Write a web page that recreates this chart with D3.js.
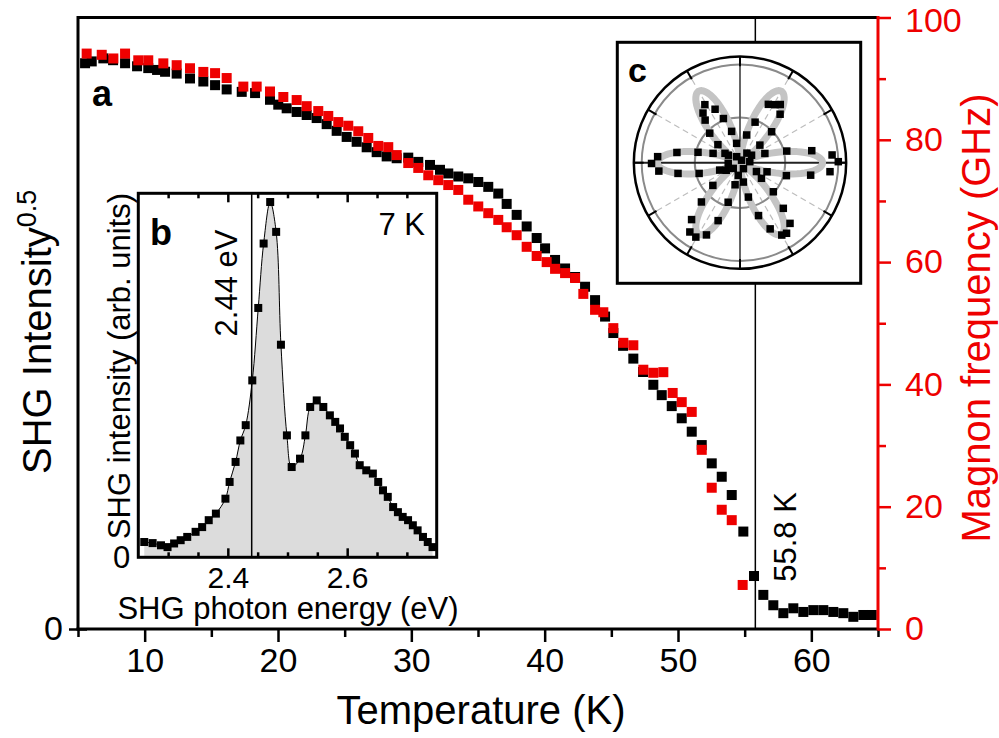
<!DOCTYPE html>
<html><head><meta charset="utf-8">
<script src="https://cdn.jsdelivr.net/npm/d3@7"></script>
<style>
body{margin:0;background:#fff}
svg{display:block}
text{font-family:"Liberation Sans",Arial,Helvetica,sans-serif}
</style>
</head><body>
<svg id="chart" width="999" height="738"></svg>
<script>
// ---------- data: main panel (a) ----------
const shgTemp = [5.53,6.03,6.90,7.63,8.53,9.43,10.27,10.93,11.53,12.40,13.40,14.40,15.28,16.15,17.28,18.28,19.40,20.02,20.65,21.40,22.15,22.90,23.65,24.40,25.15,25.90,26.65,27.40,28.15,28.90,29.77,30.52,31.40,32.15,32.77,33.52,34.27,35.02,35.77,36.52,37.15,37.90,38.65,39.40,40.03,40.78,41.53,42.28,43.03,43.78,44.53,45.15,45.88,46.65,47.38,48.15,48.78,49.53,50.28,51.03,51.78,52.53,53.28,54.03,54.90,55.70,56.40,57.15,57.90,58.65,59.40,60.15,60.90,61.65,62.40,63.15,63.90,64.53];
const shgValue = [0.929,0.932,0.937,0.934,0.929,0.924,0.921,0.918,0.915,0.912,0.904,0.899,0.893,0.886,0.882,0.880,0.869,0.861,0.855,0.849,0.844,0.839,0.829,0.818,0.808,0.800,0.791,0.783,0.776,0.773,0.774,0.767,0.762,0.754,0.748,0.743,0.740,0.734,0.726,0.715,0.698,0.680,0.661,0.642,0.625,0.606,0.592,0.578,0.562,0.540,0.513,0.486,0.465,0.444,0.422,0.401,0.384,0.366,0.346,0.324,0.302,0.272,0.250,0.220,0.160,0.087,0.056,0.039,0.026,0.034,0.028,0.031,0.031,0.028,0.026,0.020,0.023,0.023];
const magnonTemp = [5.65,6.78,7.65,8.53,9.52,10.27,11.40,12.40,13.40,14.40,15.28,16.15,17.40,18.40,19.40,20.40,21.40,22.15,23.02,23.77,24.52,25.27,26.02,26.77,27.52,28.27,28.90,29.77,30.52,31.27,32.02,32.77,33.52,34.27,35.02,35.77,36.52,37.15,37.90,38.65,39.40,40.15,40.78,41.53,42.28,42.90,43.78,44.40,45.15,45.90,46.65,47.40,48.15,48.90,49.60,50.28,51.03,51.78,52.53,53.28,54.03,54.85];
const magnonFreq = [94.1,93.9,93.3,94.1,93.0,93.0,92.5,92.2,91.7,91.1,90.9,90.1,88.7,88.7,87.9,87.0,86.5,85.5,84.7,83.9,82.9,82.3,81.4,80.3,79.0,78.8,77.5,76.2,75.4,74.2,73.4,72.6,71.8,70.2,69.1,68.0,66.9,65.7,64.4,62.5,61.0,60.0,58.9,58.2,57.4,54.8,52.2,51.8,49.2,46.8,46.4,42.4,41.9,42.0,38.6,37.1,35.5,29.3,23.1,19.5,17.8,7.2];
const transitionT = 55.8;
const xMajorTicks = [10,20,30,40,50,60];
const xMinorTicks = [5,15,25,35,45,55,65];
const freqMajorTicks = [0,20,40,60,80,100];
const freqMinorTicks = [10,30,50,70,90];

// ---------- data: inset (b) spectrum at 7 K ----------
const specEnergy = [2.260,2.274,2.288,2.299,2.310,2.321,2.332,2.346,2.357,2.368,2.380,2.396,2.403,2.413,2.421,2.430,2.441,2.451,2.460,2.471,2.481,2.489,2.499,2.507,2.521,2.530,2.538,2.549,2.560,2.571,2.580,2.588,2.596,2.605,2.613,2.621,2.632,2.643,2.652,2.660,2.668,2.677,2.685,2.693,2.702,2.710,2.718,2.727,2.735,2.743];
const specValue = [0.042,0.039,0.033,0.028,0.038,0.047,0.056,0.070,0.083,0.102,0.120,0.161,0.207,0.262,0.321,0.363,0.486,0.685,0.862,0.976,0.894,0.584,0.335,0.248,0.271,0.335,0.413,0.431,0.413,0.390,0.372,0.354,0.331,0.308,0.285,0.253,0.239,0.230,0.207,0.184,0.166,0.138,0.124,0.111,0.102,0.088,0.074,0.056,0.042,0.028];
const resonanceEnergy = 2.44;
const eMajorTicks = [2.4,2.6];
const eMinorTicks = [2.3,2.35,2.45,2.5,2.55,2.65,2.7];

// ---------- data: inset (c) polar SHG pattern ----------
const polarAngleDeg = [121.2,115,126.7,129.3,110.6,135.7,105,140.8,99.8,148,64.1,58.8,55.3,50.4,69.6,44.4,76.4,41.5,54.3,4.8,0.6,-5.7,9.5,-10,14,-15.6,20.4,-18.6,-28.3,175.8,180.5,185.9,170.8,189.8,166.1,194.7,160.8,200,208.8,229.6,234.1,239.3,245.1,249.3,225.5,253.3,219.9,257.4,309.5,303.4,300,294.5,289.3,313.5,318.9,283.7,324,279.9,119,58,220,300,6,183,262,33,147];
const polarValue = [0.69,0.60,0.63,0.56,0.48,0.43,0.33,0.29,0.20,0.18,0.66,0.69,0.72,0.64,0.44,0.45,0.29,0.27,0.12,0.94,1.00,0.92,0.74,0.73,0.49,0.49,0.27,0.29,0.19,0.84,0.90,0.83,0.65,0.64,0.44,0.43,0.29,0.22,0.16,0.76,0.87,0.88,0.81,0.63,0.56,0.42,0.36,0.23,0.80,0.86,0.85,0.74,0.57,0.64,0.45,0.36,0.27,0.20,0.07,0.03,0.09,0.07,0.10,0.12,0.13,0.14,0.14];
const polarFitAmplitude = 0.84;
const polarGridCircles = [0.46, 1.0];
const polarOuter = 1.08;

// ---------- drawing ----------
const RED = "#ee0000";
const svg = d3.select("#chart");
const x = d3.scaleLinear().domain([5,65]).range([78,878]);
const yL = d3.scaleLinear().domain([0,1]).range([629,20]);
const yR = d3.scaleLinear().domain([0,100]).range([629,17.5]);

function styleAxis(g, color, sw, fs){
  g.select(".domain").remove();
  g.selectAll(".tick line").attr("stroke",color).attr("stroke-width",sw);
  g.selectAll(".tick text").attr("fill",color).attr("font-size",fs)
    .attr("font-family",'"Liberation Sans",Arial,sans-serif');
}

// transition line
svg.append("line")
  .attr("x1",x(transitionT)).attr("x2",x(transitionT))
  .attr("y1",yR(100)).attr("y2",yR(0))
  .attr("stroke","#000").attr("stroke-width",1.5);

// data squares
const sq = 10;
svg.append("g").selectAll("rect").data(d3.zip(shgTemp,shgValue)).join("rect")
  .attr("x",d=>x(d[0])-sq/2).attr("y",d=>yL(d[1])-sq/2)
  .attr("width",sq).attr("height",sq).attr("fill","#000");
svg.append("g").selectAll("rect").data(d3.zip(magnonTemp,magnonFreq)).join("rect")
  .attr("x",d=>x(d[0])-sq/2).attr("y",d=>yR(d[1])-sq/2)
  .attr("width",sq).attr("height",sq).attr("fill",RED);

// axes
const gx = svg.append("g").attr("transform","translate(0,629)")
  .call(d3.axisBottom(x).tickValues(xMajorTicks).tickSize(13).tickPadding(6).tickFormat(d3.format("d")));
styleAxis(gx,"#000",2.5,34);
const gxm = svg.append("g").attr("transform","translate(0,629)")
  .call(d3.axisBottom(x).tickValues(xMinorTicks).tickSize(8).tickFormat(""));
styleAxis(gxm,"#000",2.5,34);

const gr = svg.append("g").attr("transform","translate(878,0)")
  .call(d3.axisRight(yR).tickValues(freqMajorTicks).tickSize(13).tickPadding(14).tickFormat(d3.format("d")));
styleAxis(gr,RED,2.5,34);
gr.selectAll(".tick text").filter(d=>d===100).attr("dy","0.40em");
const grm = svg.append("g").attr("transform","translate(878,0)")
  .call(d3.axisRight(yR).tickValues(freqMinorTicks).tickSize(8).tickFormat(""));
styleAxis(grm,RED,2.5,34);

const gl = svg.append("g").attr("transform","translate(78,0)")
  .call(d3.axisLeft(yL).tickValues([0]).tickSize(9).tickPadding(6).tickFormat(d3.format("d")));
styleAxis(gl,"#000",2.5,34);
const gl2 = svg.append("g").attr("transform","translate(78,0)")
  .call(d3.axisLeft(yL).tickValues([0]).tickSize(-9).tickFormat(""));
styleAxis(gl2,"#000",2.5,34);

// spines
svg.append("line").attr("x1",x(5)).attr("x2",x(65)).attr("y1",yR(100)).attr("y2",yR(100)).attr("stroke","#000").attr("stroke-width",3);
svg.append("line").attr("x1",x(5)).attr("x2",x(5)).attr("y1",yR(100)-1.5).attr("y2",yR(0)+1.5).attr("stroke","#000").attr("stroke-width",3);
svg.append("line").attr("x1",x(5)-1.5).attr("x2",x(65)).attr("y1",yR(0)).attr("y2",yR(0)).attr("stroke","#000").attr("stroke-width",3);
svg.append("line").attr("x1",x(65)).attr("x2",x(65)).attr("y1",yR(100)-1.5).attr("y2",yR(0)+1.5).attr("stroke",RED).attr("stroke-width",3);

// axis titles
svg.append("text").attr("x",481).attr("y",724).attr("text-anchor","middle").attr("font-size",40).text("Temperature (K)");
const yt = svg.append("text").attr("transform","translate(51,474) rotate(-90)").attr("font-size",40);
yt.append("tspan").text("SHG Intensity");
yt.append("tspan").attr("dy",-15).attr("font-size",27).text("0.5");
svg.append("text").attr("transform","translate(990,318) rotate(-90)").attr("text-anchor","middle")
  .attr("font-size",40).attr("fill",RED).text("Magnon frequency (GHz)");

svg.append("text").attr("x",92).attr("y",106).attr("font-size",36).attr("font-weight","bold").text("a");
svg.append("text").attr("transform",`translate(${x(transitionT)+41},537) rotate(-90)`).attr("text-anchor","middle")
  .attr("font-size",31).text("55.8 K");

// ---------- inset b ----------
const bx0=138.3,bx1=436.7,by0=193.3,by1=557.3;
const ex = d3.scaleLinear().domain([2.25,2.75]).range([bx0,bx1]);
const ey = d3.scaleLinear().domain([0,1]).range([by1,by0]);
svg.append("rect").attr("x",bx0).attr("y",by0).attr("width",bx1-bx0).attr("height",by1-by0).attr("fill","#fff");
svg.append("clipPath").attr("id","clipb").append("rect").attr("x",bx0).attr("y",by0).attr("width",bx1-bx0).attr("height",by1-by0);
const spec = d3.zip(specEnergy,specValue);
const gb = svg.append("g").attr("clip-path","url(#clipb)");
gb.append("path").datum(spec)
  .attr("d",d3.area().x(d=>ex(d[0])).y0(by1).y1(d=>ey(d[1])).curve(d3.curveCatmullRom.alpha(0.5)))
  .attr("fill","#dcdcdc");
gb.append("path").datum(spec)
  .attr("d",d3.line().x(d=>ex(d[0])).y(d=>ey(d[1])).curve(d3.curveCatmullRom.alpha(0.5)))
  .attr("fill","none").attr("stroke","#000").attr("stroke-width",1);
gb.append("line").attr("x1",ex(resonanceEnergy)).attr("x2",ex(resonanceEnergy)).attr("y1",by0).attr("y2",by1)
  .attr("stroke","#000").attr("stroke-width",1.5);
const sqb = 8;
gb.append("g").selectAll("rect").data(spec).join("rect")
  .attr("x",d=>ex(d[0])-sqb/2).attr("y",d=>ey(d[1])-sqb/2)
  .attr("width",sqb).attr("height",sqb).attr("fill","#000");

const gbx = svg.append("g").attr("transform",`translate(0,${by1})`)
  .call(d3.axisBottom(ex).tickValues(eMajorTicks).tickSize(-9).tickPadding(9).tickFormat(d3.format(".1f")));
styleAxis(gbx,"#000",2.5,30);
const gbxm = svg.append("g").attr("transform",`translate(0,${by1})`)
  .call(d3.axisBottom(ex).tickValues(eMinorTicks).tickSize(-5).tickFormat(""));
styleAxis(gbxm,"#000",2.5,31);
const gbt = svg.append("g").attr("transform",`translate(0,${by0})`)
  .call(d3.axisTop(ex).tickValues(eMajorTicks).tickSize(-9).tickFormat(""));
styleAxis(gbt,"#000",2.5,31);
const gbtm = svg.append("g").attr("transform",`translate(0,${by0})`)
  .call(d3.axisTop(ex).tickValues(eMinorTicks).tickSize(-5).tickFormat(""));
styleAxis(gbtm,"#000",2.5,31);
const gby = svg.append("g").attr("transform",`translate(${bx0},0)`)
  .call(d3.axisLeft(ey).tickValues([0]).tickSize(0).tickPadding(8).tickFormat(d3.format("d")));
styleAxis(gby,"#000",2.5,31);

svg.append("rect").attr("x",bx0).attr("y",by0).attr("width",bx1-bx0).attr("height",by1-by0)
  .attr("fill","none").attr("stroke","#000").attr("stroke-width",3);

svg.append("text").attr("x",150).attr("y",245).attr("font-size",36).attr("font-weight","bold").text("b");
svg.append("text").attr("x",425).attr("y",235).attr("text-anchor","end").attr("font-size",31).text("7 K");
svg.append("text").attr("transform",`translate(${ex(resonanceEnergy)-15},283) rotate(-90)`).attr("text-anchor","middle")
  .attr("font-size",31).text("2.44 eV");
svg.append("text").attr("transform","translate(130,366) rotate(-90)").attr("text-anchor","middle")
  .attr("font-size",31).text("SHG intensity (arb. units)");
svg.append("text").attr("x",288).attr("y",619).attr("text-anchor","middle").attr("font-size",31).text("SHG photon energy (eV)");

// ---------- inset c ----------
const cx0=617.3, cy0=42.3, cw=243.4, ch=241;
const pcx=740, pcy=162.7;
svg.append("rect").attr("x",cx0).attr("y",cy0).attr("width",cw).attr("height",ch).attr("fill","#fff");
const rS = d3.scaleLinear().domain([0,1]).range([0,98.3]);
const pg = svg.append("g").attr("transform",`translate(${pcx},${pcy})`);
const gridAngles = [30,60,120,150,210,240,300,330];
pg.selectAll("line.dash").data(gridAngles).join("line").attr("class","dash")
  .attr("x1",0).attr("y1",0)
  .attr("x2",d=>rS(1)*Math.cos(d*Math.PI/180)).attr("y2",d=>-rS(1)*Math.sin(d*Math.PI/180))
  .attr("stroke","#bdbdbd").attr("stroke-width",1.2).attr("stroke-dasharray","6,4");
pg.selectAll("circle.grid").data(polarGridCircles).join("circle").attr("class","grid")
  .attr("r",d=>rS(d)).attr("fill","none").attr("stroke","#8a8a8a").attr("stroke-width",2);
pg.append("line").attr("x1",0).attr("x2",0).attr("y1",-rS(polarOuter)).attr("y2",rS(polarOuter))
  .attr("stroke","#555").attr("stroke-width",1.8);
pg.append("line").attr("x1",-rS(polarOuter)).attr("x2",rS(polarOuter)).attr("y1",0).attr("y2",0)
  .attr("stroke","#222").attr("stroke-width",2);
// fit lobes (model cos^2(3 phi))
const fitPhi = d3.range(0,361,1);
pg.append("path").datum(fitPhi)
  .attr("d",d3.lineRadial()
     .angle(p=>Math.PI/2 - p*Math.PI/180)
     .radius(p=>rS(polarFitAmplitude*Math.pow(Math.cos(3*p*Math.PI/180),2)))
     .curve(d3.curveLinearClosed))
  .attr("fill","none").attr("stroke","#c4c4c4").attr("stroke-width",7).attr("stroke-linejoin","round");
pg.append("circle").attr("r",rS(polarOuter)).attr("fill","none").attr("stroke","#000").attr("stroke-width",2.5);
pg.selectAll("line.tk").data(gridAngles.concat([0,90,180,270])).join("line").attr("class","tk")
  .attr("x1",d=>rS(polarOuter)*Math.cos(d*Math.PI/180)).attr("y1",d=>-rS(polarOuter)*Math.sin(d*Math.PI/180))
  .attr("x2",d=>rS(0.98)*Math.cos(d*Math.PI/180)).attr("y2",d=>-rS(0.98)*Math.sin(d*Math.PI/180))
  .attr("stroke","#000").attr("stroke-width",2);
const sqc = 7.5;
pg.append("g").selectAll("rect").data(d3.zip(polarAngleDeg,polarValue)).join("rect")
  .attr("x",d=>rS(d[1])*Math.cos(d[0]*Math.PI/180)-sqc/2)
  .attr("y",d=>-rS(d[1])*Math.sin(d[0]*Math.PI/180)-sqc/2)
  .attr("width",sqc).attr("height",sqc).attr("fill","#000");
svg.append("rect").attr("x",cx0).attr("y",cy0).attr("width",cw).attr("height",ch)
  .attr("fill","none").attr("stroke","#000").attr("stroke-width",3);
svg.append("text").attr("x",628).attr("y",82).attr("font-size",34).attr("font-weight","bold").text("c");
</script>
</body></html>
